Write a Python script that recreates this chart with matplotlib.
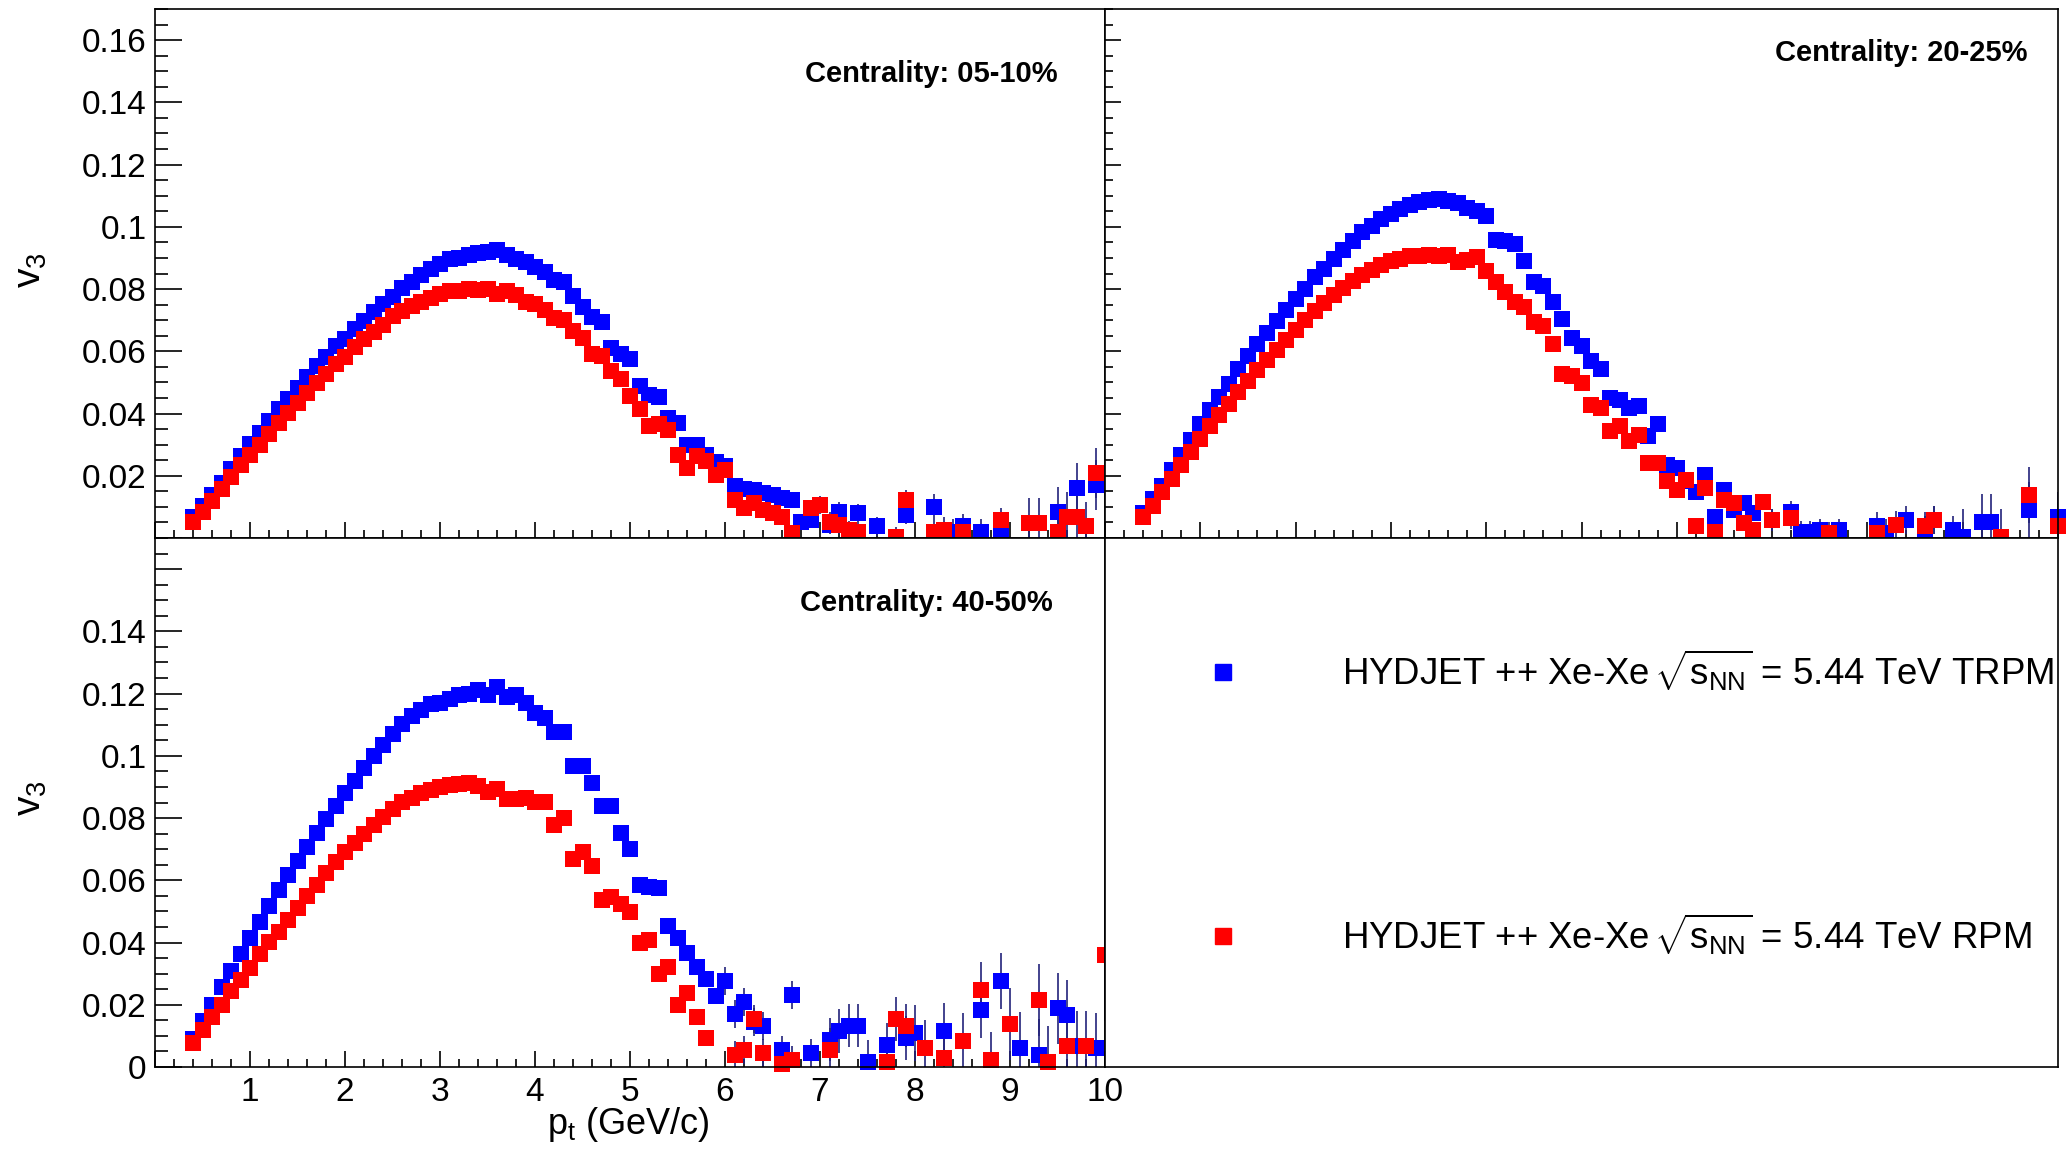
import numpy as np
import matplotlib
matplotlib.use('Agg')
import matplotlib.pyplot as plt
from matplotlib.ticker import MultipleLocator, FuncFormatter
from matplotlib.lines import Line2D

nan = np.nan

# pt bin centres (0.1 GeV/c bins, 0.4 .. 10.0)
pt = np.round(np.arange(0.4, 10.05, 0.1), 1)

# ---- Centrality 05-10% ----
v3_0510_trpm = [
    0.0069, 0.0104, 0.0139, 0.0178, 0.0223, 0.0265,
    0.0303, 0.0338, 0.0377, 0.0413, 0.0447, 0.0483, 0.0518, 0.0553, 0.0583, 0.0617,
    0.0641, 0.0671, 0.0698, 0.0727, 0.0752, 0.0776, 0.0805, 0.0824, 0.0845, 0.0865,
    0.0881, 0.0895, 0.0900, 0.0910, 0.0916, 0.0920, 0.0924, 0.0910, 0.0897, 0.0886,
    0.0870, 0.0854, 0.0830, 0.0822, 0.0778, 0.0741, 0.0709, 0.0695, 0.0609, 0.0590,
    0.0574, 0.0488, 0.0458, 0.0452, 0.0385, 0.0370, 0.0300, 0.0300, 0.0268, 0.0245,
    0.0230, 0.0166, 0.0157, 0.0155, 0.0145, 0.0139, 0.0130, 0.0123, 0.0053, 0.0058,
    nan, 0.0042, 0.0085, nan, 0.0080, nan, 0.0037, nan, nan, 0.0074,
    nan, nan, 0.0101, nan, 0.0020, 0.0037, nan, 0.0020, nan, 0.0015,
    nan, nan, nan, nan, nan, 0.0085, nan, 0.0160, nan, 0.0171,
    nan]
v3_0510_rpm = [
    0.0051, 0.0085, 0.0120, 0.0158, 0.0196, 0.0233,
    0.0266, 0.0300, 0.0335, 0.0368, 0.0402, 0.0434, 0.0467, 0.0497, 0.0526, 0.0558,
    0.0583, 0.0615, 0.0639, 0.0663, 0.0685, 0.0712, 0.0728, 0.0744, 0.0760, 0.0771,
    0.0784, 0.0793, 0.0793, 0.0800, 0.0798, 0.0800, 0.0784, 0.0793, 0.0782, 0.0760,
    0.0753, 0.0733, 0.0706, 0.0700, 0.0665, 0.0644, 0.0590, 0.0585, 0.0537, 0.0510,
    0.0456, 0.0413, 0.0359, 0.0365, 0.0348, 0.0268, 0.0225, 0.0262, 0.0246, 0.0203,
    0.0219, 0.0123, 0.0096, 0.0112, 0.0090, 0.0080, 0.0069, 0.0015, nan, 0.0096,
    0.0106, 0.0053, 0.0042, 0.0026, 0.0020, nan, nan, nan, 0.0004, 0.0123,
    nan, nan, 0.0020, 0.0026, nan, 0.0020, nan, nan, nan, 0.0058,
    nan, nan, 0.0048, 0.0048, nan, 0.0020, 0.0069, 0.0069, 0.0037, 0.0210,
    nan]
err_0510 = [0.0005, 0.0005, 0.0005, 0.0006, 0.0008, 0.0012, 0.0022, 0.0030, 0.0040, 0.0080, 0.0080]

# ---- Centrality 20-25% ----
v3_2025_trpm = [
    0.0080, 0.0125, 0.0166, 0.0217, 0.0268, 0.0316,
    0.0365, 0.0411, 0.0454, 0.0496, 0.0542, 0.0585, 0.0623, 0.0660, 0.0698, 0.0733,
    0.0768, 0.0800, 0.0838, 0.0865, 0.0897, 0.0926, 0.0953, 0.0983, 0.1002, 0.1026,
    0.1042, 0.1058, 0.1069, 0.1080, 0.1085, 0.1088, 0.1083, 0.1078, 0.1062, 0.1050,
    0.1036, 0.0958, 0.0956, 0.0945, 0.0891, 0.0822, 0.0810, 0.0757, 0.0703, 0.0644,
    0.0617, 0.0569, 0.0542, 0.0451, 0.0445, 0.0418, 0.0424, 0.0327, 0.0365, 0.0235,
    0.0225, 0.0182, 0.0149, 0.0203, 0.0069, 0.0155, 0.0090, 0.0112, 0.0080, nan,
    0.0058, nan, 0.0085, 0.0020, 0.0020, 0.0026, nan, 0.0026, nan, nan,
    nan, 0.0037, 0.0016, nan, 0.0058, nan, 0.0026, 0.0058, nan, 0.0026,
    0.0004, nan, 0.0053, 0.0053, nan, nan, nan, 0.0090, nan, nan,
    0.0069]
v3_2025_rpm = [
    0.0067, 0.0104, 0.0147, 0.0190, 0.0233, 0.0276,
    0.0319, 0.0359, 0.0395, 0.0432, 0.0470, 0.0505, 0.0540, 0.0572, 0.0604, 0.0636,
    0.0669, 0.0701, 0.0731, 0.0755, 0.0782, 0.0803, 0.0825, 0.0846, 0.0862, 0.0878,
    0.0889, 0.0897, 0.0905, 0.0907, 0.0911, 0.0905, 0.0908, 0.0887, 0.0893, 0.0903,
    0.0857, 0.0822, 0.0790, 0.0760, 0.0741, 0.0693, 0.0682, 0.0623, 0.0526, 0.0520,
    0.0499, 0.0426, 0.0418, 0.0343, 0.0359, 0.0311, 0.0332, 0.0241, 0.0241, 0.0182,
    0.0155, 0.0187, 0.0037, 0.0160, 0.0020, 0.0123, 0.0112, 0.0047, 0.0026, 0.0117,
    0.0058, nan, 0.0063, nan, nan, nan, 0.0015, nan, nan, nan,
    nan, 0.0015, nan, 0.0042, nan, nan, 0.0037, 0.0058, nan, nan,
    nan, nan, nan, nan, 0.0004, nan, nan, 0.0139, nan, nan,
    0.0037]
err_2025 = [0.0005, 0.0005, 0.0005, 0.0006, 0.0008, 0.0012, 0.0025, 0.0035, 0.0045, 0.0090, 0.0080]

# ---- Centrality 40-50% ----
v3_4050_trpm = [
    0.0090, 0.0147, 0.0198, 0.0256, 0.0310, 0.0364,
    0.0414, 0.0465, 0.0516, 0.0570, 0.0618, 0.0662, 0.0707, 0.0751, 0.0796, 0.0840,
    0.0881, 0.0919, 0.0961, 0.0999, 0.1035, 0.1069, 0.1101, 0.1127, 0.1146, 0.1165,
    0.1171, 0.1184, 0.1196, 0.1199, 0.1212, 0.1196, 0.1222, 0.1190, 0.1196, 0.1171,
    0.1139, 0.1120, 0.1077, 0.1077, 0.0967, 0.0967, 0.0912, 0.0840, 0.0840, 0.0751,
    0.0702, 0.0586, 0.0580, 0.0575, 0.0453, 0.0414, 0.0365, 0.0320, 0.0282, 0.0227,
    0.0276, 0.0171, 0.0210, 0.0144, 0.0133, nan, 0.0055, 0.0232, nan, 0.0044,
    nan, 0.0088, 0.0116, 0.0133, 0.0133, 0.0017, nan, 0.0072, nan, 0.0094,
    0.0110, nan, nan, 0.0116, nan, nan, nan, 0.0182, nan, 0.0276,
    nan, 0.0061, nan, 0.0039, nan, 0.0188, 0.0166, 0.0066, nan, 0.0060,
    nan]
v3_4050_rpm = [
    0.0078, 0.0118, 0.0160, 0.0198, 0.0243, 0.0281,
    0.0319, 0.0364, 0.0402, 0.0434, 0.0472, 0.0510, 0.0548, 0.0586, 0.0624, 0.0660,
    0.0690, 0.0720, 0.0749, 0.0777, 0.0802, 0.0828, 0.0851, 0.0866, 0.0881, 0.0891,
    0.0901, 0.0907, 0.0910, 0.0914, 0.0904, 0.0885, 0.0894, 0.0860, 0.0860, 0.0866,
    0.0853, 0.0851, 0.0779, 0.0801, 0.0669, 0.0690, 0.0646, 0.0536, 0.0547, 0.0525,
    0.0497, 0.0398, 0.0409, 0.0298, 0.0320, 0.0199, 0.0238, 0.0160, 0.0094, nan,
    nan, 0.0039, 0.0055, 0.0155, 0.0044, nan, 0.0011, 0.0022, nan, nan,
    nan, 0.0055, nan, nan, nan, nan, nan, 0.0017, 0.0155, 0.0133,
    nan, 0.0061, nan, 0.0028, nan, 0.0083, nan, 0.0249, 0.0022, nan,
    0.0138, nan, nan, 0.0215, 0.0017, nan, 0.0066, nan, 0.0066, nan,
    0.0359]
err_4050 = [0.0006, 0.0006, 0.0007, 0.0009, 0.0012, 0.0020, 0.0045, 0.0070, 0.0090, 0.0115, 0.0210]

labels = [r'HYDJET ++ Xe-Xe$\,\sqrt{\mathrm{s}_{\mathrm{NN}}}$ = 5.44 TeV TRPM',
          r'HYDJET ++ Xe-Xe$\,\sqrt{\mathrm{s}_{\mathrm{NN}}}$ = 5.44 TeV RPM']

plt.rcParams['font.family'] = ['Liberation Sans', 'DejaVu Sans']
plt.rcParams['mathtext.fontset'] = 'custom'
plt.rcParams['mathtext.rm'] = 'Liberation Sans'
plt.rcParams['mathtext.it'] = 'Liberation Sans:italic'
plt.rcParams['mathtext.bf'] = 'Liberation Sans:bold'

W, H = 2068, 1152
fig = plt.figure(figsize=(W / 100, H / 100), dpi=100)

xl, xm, xr = 155 / W, 1105 / W, 2058 / W
yt, ym, yb = 1 - 9 / H, 1 - 538 / H, 1 - 1067 / H

ax_tl = fig.add_axes([xl, ym, xm - xl, yt - ym])
ax_tr = fig.add_axes([xm, ym, xr - xm, yt - ym])
ax_bl = fig.add_axes([xl, yb, xm - xl, ym - yb])
ax_br = fig.add_axes([xm, yb, xr - xm, ym - yb])


def panel(ax, v_trpm, v_rpm, err_unit, title, tx, ty, ylen, hide_y=(), xlabels=False, ylabels=True):
    e = np.array(err_unit)[np.floor(pt + 1e-6).astype(int)]
    for v, c in ((v_trpm, 'blue'), (v_rpm, 'red')):
        cont = ax.errorbar(pt, v, yerr=e, fmt='s', ms=11.2, color=c, mec=c, mew=0,
                           ecolor='#22227a', elinewidth=1.2, capsize=2.5, capthick=1.2)
        cont[0].set_clip_on(False)
    ax.set_xlim(0, 10)
    ax.set_ylim(0, 0.17)
    ax.xaxis.set_major_locator(MultipleLocator(1))
    ax.xaxis.set_minor_locator(MultipleLocator(0.2))
    ax.yaxis.set_major_locator(MultipleLocator(0.02))
    ax.yaxis.set_minor_locator(MultipleLocator(0.005))
    ax.tick_params(which='both', direction='in', top=False, right=False, width=1.2, labelsize=24)
    ax.tick_params(axis='x', which='major', length=11.5, pad=7, labelbottom=xlabels)
    ax.tick_params(axis='x', which='minor', length=5.8)
    ax.tick_params(axis='y', which='major', length=ylen, pad=6, labelleft=ylabels)
    ax.tick_params(axis='y', which='minor', length=ylen / 2)
    ax.yaxis.set_major_formatter(FuncFormatter(
        lambda v, p: '' if round(v, 3) in hide_y else '%g' % round(v, 3)))
    ax.xaxis.set_major_formatter(FuncFormatter(lambda v, p: '' if v == 0 else '%g' % v))
    for s in ax.spines.values():
        s.set_linewidth(1.2)
    ax.text(tx, ty, title, transform=ax.transAxes, ha='right', va='center',
            fontsize=21, fontweight='bold')


panel(ax_tl, v3_0510_trpm, v3_0510_rpm, err_0510, 'Centrality: 05-10%', 0.9505, 0.877,
      19.4, hide_y=(0.0,))
panel(ax_tr, v3_2025_trpm, v3_2025_rpm, err_2025, 'Centrality: 20-25%', 0.9675, 0.917,
      11.5, ylabels=False)
panel(ax_bl, v3_4050_trpm, v3_4050_rpm, err_4050, 'Centrality: 40-50%', 0.945, 0.877,
      19.4, hide_y=(0.16,), xlabels=True)

ax_br.set_xticks([])
ax_br.set_yticks([])
for s in ax_br.spines.values():
    s.set_linewidth(1.2)
handles = [Line2D([], [], marker='s', ls='none', color='blue', ms=11),
           Line2D([], [], marker='s', ls='none', color='red', ms=11)]
ax_br.legend(handles, labels, loc='center left', bbox_to_anchor=(0.0858, 0.5),
             frameon=False, fontsize=26.4, handlelength=2, handletextpad=2.245,
             labelspacing=5.96, borderpad=0, borderaxespad=0)

fig.text(31 / W, 1 - 270 / H, r'$\mathrm{v}_{3}$', rotation=90, ha='center', va='center', fontsize=28)
fig.text(31 / W, 1 - 798 / H, r'$\mathrm{v}_{3}$', rotation=90, ha='center', va='center', fontsize=28)
fig.text(628 / W, 1 - 1125 / H, r'$\mathrm{p}_{\mathrm{t}}$ (GeV/c)', ha='center', va='center', fontsize=26)

fig.savefig('out.png', dpi=100)
